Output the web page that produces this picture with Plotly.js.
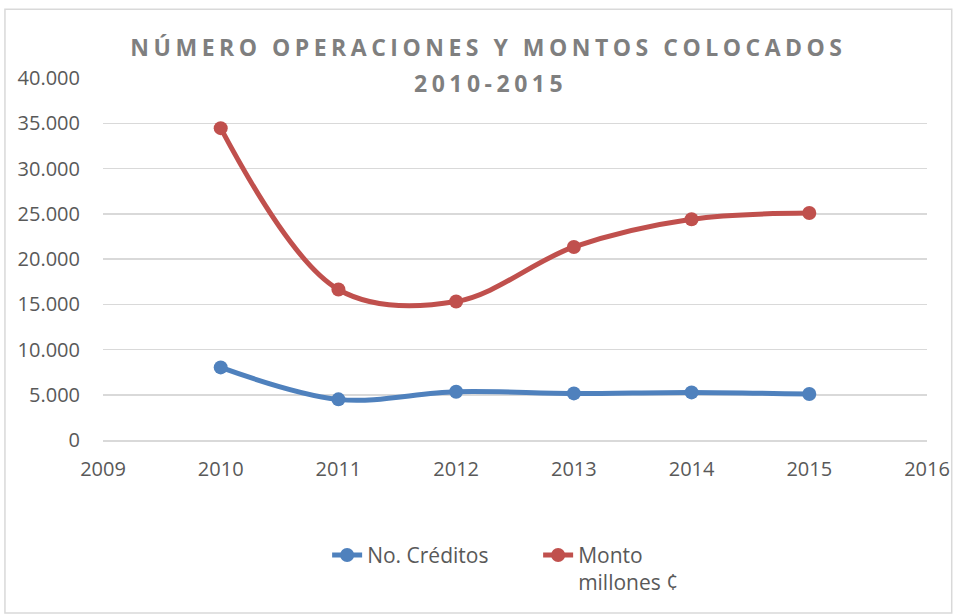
<!DOCTYPE html>
<html>
<head>
<meta charset="utf-8">
<script src="https://cdn.plot.ly/plotly-3.0.1.min.js"></script>
<style>
html,body{margin:0;padding:0;background:#fff;}
#chart{width:954px;height:615px;}
.gtitle, .annotation-text{letter-spacing:4.5px;}
</style>
</head>
<body>
<div id="chart"></div>
<script>
const years = [2010, 2011, 2012, 2013, 2014, 2015];
const creditos = [8020, 4490, 5330, 5150, 5260, 5080];
const montos = [34460, 16630, 15300, 21330, 24390, 25080];
const seriesNames = ["No. Créditos", "Monto<br>millones ¢"];
const titleLine1 = "NÚMERO OPERACIONES Y MONTOS COLOCADOS";
const titleLine2 = "2010-2015";

const traces = [
  {x: years, y: creditos, name: seriesNames[0], type: 'scatter', mode: 'lines+markers',
   line: {color: '#4f81bd', width: 5, shape: 'spline', smoothing: 1},
   marker: {color: '#4f81bd', size: 14}},
  {x: years, y: montos, name: seriesNames[1], type: 'scatter', mode: 'lines+markers',
   line: {color: '#c0504d', width: 5, shape: 'spline', smoothing: 1},
   marker: {color: '#c0504d', size: 14}}
];

const titleFont = {family: 'Open Sans, sans-serif', size: 23, color: '#7f7f7f', weight: 'bold'};

const layout = {
  width: 954, height: 615,
  paper_bgcolor: '#fff', plot_bgcolor: '#fff',
  separators: ',.',
  margin: {l: 103, r: 27, t: 78, b: 175},
  title: {text: titleLine1, x: 0.512, xanchor: 'center', y: 0.922, yanchor: 'middle',
          font: titleFont},
  annotations: [{text: titleLine2, xref: 'paper', yref: 'paper', x: 0.47, y: 1.0 + (440 - 83 - 362) / 362,
                 xanchor: 'center', yanchor: 'middle', showarrow: false, font: titleFont}],
  font: {family: 'Open Sans, sans-serif', color: '#595959', size: 20},
  xaxis: {range: [2009, 2016], dtick: 1, tick0: 2009, showgrid: false, zeroline: false,
          showline: true, linecolor: '#d9d9d9', linewidth: 1.5, ticks: '',
          ticklabelstandoff: 10,
          tickfont: {size: 20, color: '#595959'}, fixedrange: true},
  yaxis: {range: [0, 40000], dtick: 5000, tickformat: ',d', showgrid: true,
          gridcolor: '#d9d9d9', gridwidth: 1.5, zeroline: false, showline: false, ticks: '',
          ticklabelstandoff: 22,
          tickfont: {size: 20, color: '#595959'}, fixedrange: true},
  showlegend: true,
  legend: {orientation: 'h', x: 0.272, xanchor: 'left', y: -0.262, yanchor: 'top',
           font: {size: 21, color: '#595959'}, valign: 'top', entrywidth: 166, entrywidthmode: 'pixels',
           bgcolor: 'rgba(0,0,0,0)'},
  shapes: [{type: 'rect', xref: 'paper', yref: 'paper',
            x0: -0.119, x1: 1.03, y0: -0.478, y1: 1.19,
            line: {color: '#d9d9d9', width: 1.5}, layer: 'below'}]
};

Plotly.newPlot('chart', traces, layout, {displayModeBar: false, staticPlot: true});
</script>
</body>
</html>
